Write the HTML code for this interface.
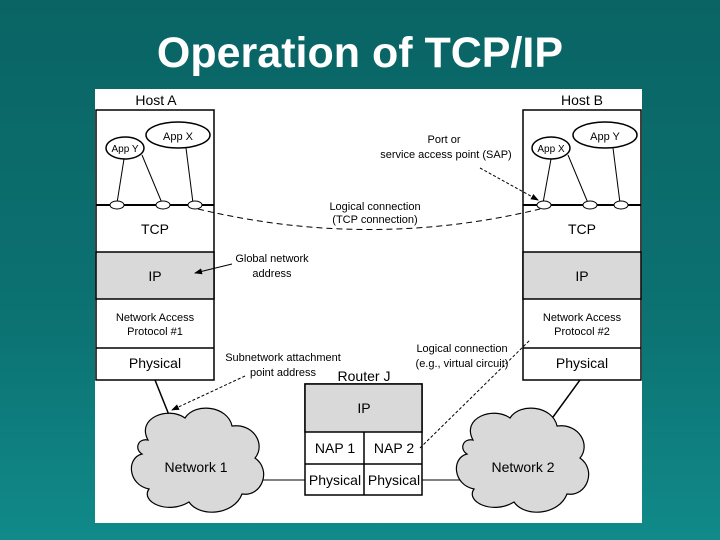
<!DOCTYPE html>
<html><head><style>
body{margin:0;width:720px;height:540px;overflow:hidden;background:linear-gradient(180deg,#0a6464 0%,#0c7272 60%,#118a8a 100%);font-family:"Liberation Sans",sans-serif;}
h1{position:absolute;top:29px;left:0;width:720px;text-align:center;margin:0;color:#fff;font-size:43px;font-weight:bold;}
svg{position:absolute;left:0;top:0}
</style></head><body>
<h1>Operation of TCP/IP</h1>
<svg width="720" height="540" font-family="Liberation Sans, sans-serif">
<defs><marker id="a" markerWidth="8" markerHeight="8" refX="7" refY="4" orient="auto"><path d="M0,1 L8,4 L0,7z" fill="#000"/></marker></defs>
<rect x="95" y="89" width="547" height="434" fill="#fff"/>
<g stroke="#000" stroke-width="1.5" fill="none">
<rect x="96" y="110" width="118" height="270"/>
<rect x="96" y="252" width="118" height="47" fill="#d9d9d9"/>
<line x1="96" y1="205" x2="214" y2="205" stroke-width="2"/>
<line x1="96" y1="348" x2="214" y2="348"/>
<rect x="523" y="110" width="118" height="270"/>
<rect x="523" y="252" width="118" height="47" fill="#d9d9d9"/>
<line x1="523" y1="205" x2="641" y2="205" stroke-width="2"/>
<line x1="523" y1="348" x2="641" y2="348"/>
<rect x="305" y="384" width="117" height="111"/>
<rect x="305" y="384" width="117" height="48" fill="#d9d9d9"/>
<line x1="305" y1="464" x2="422" y2="464"/>
<line x1="364" y1="432" x2="364" y2="495"/>
<line x1="155" y1="380" x2="175" y2="430"/>
<line x1="580" y1="380" x2="545" y2="428"/>
<line x1="255" y1="480" x2="305" y2="480" stroke-width="1"/>
<line x1="422" y1="480" x2="462" y2="480" stroke-width="1"/>
<ellipse cx="178" cy="135" rx="32" ry="13" fill="#fff"/>
<ellipse cx="125" cy="148" rx="19" ry="11" fill="#fff"/>
<ellipse cx="605" cy="135" rx="32" ry="13" fill="#fff"/>
<ellipse cx="551" cy="148" rx="19" ry="11" fill="#fff"/>
<g stroke-width="1">
<line x1="124" y1="159" x2="117" y2="203"/><line x1="142" y1="155" x2="162" y2="203"/><line x1="186" y1="148" x2="193" y2="203"/>
<line x1="551" y1="159" x2="543" y2="203"/><line x1="568" y1="155" x2="588" y2="203"/><line x1="613" y1="148" x2="620" y2="203"/>
</g>
<g fill="#fff" stroke-width="1">
<ellipse cx="117" cy="205" rx="7" ry="4"/><ellipse cx="163" cy="205" rx="7" ry="4"/><ellipse cx="195" cy="205" rx="7" ry="4"/>
<ellipse cx="544" cy="205" rx="7" ry="4"/><ellipse cx="590" cy="205" rx="7" ry="4"/><ellipse cx="621" cy="205" rx="7" ry="4"/>
</g>
<path d="M198,209 Q370,250 540,209" stroke-dasharray="6,4" stroke-width="1"/>
<g stroke-width="1" marker-end="url(#a)">
<line x1="232" y1="264" x2="195" y2="273"/>
<line x1="480" y1="168" x2="538" y2="200" stroke-dasharray="3,2"/>
<line x1="245" y1="376" x2="172" y2="410" stroke-dasharray="3,2"/>
</g>
<line x1="420" y1="448" x2="530" y2="340" stroke-width="1" stroke-dasharray="3,2"/>
<path d="M148,440 C136,418 168,406 185,418 C195,402 228,406 232,426 C254,423 266,445 255,458 C272,470 262,497 242,494 C234,515 200,518 189,502 C168,515 140,502 149,489 C128,485 126,458 142,454 C134,449 138,438 148,440Z" fill="#d9d9d9" stroke-width="1.2"/>
<path d="M473,440 C461,418 493,406 510,418 C520,402 553,406 557,426 C579,423 591,445 580,458 C597,470 587,497 567,494 C559,515 525,518 514,502 C493,515 465,502 474,489 C453,485 451,458 467,454 C459,449 463,438 473,440Z" fill="#d9d9d9" stroke-width="1.2"/>
</g>
<g font-size="14" text-anchor="middle" fill="#000">
<text x="156" y="105">Host A</text><text x="582" y="105">Host B</text>
<text x="155" y="234">TCP</text><text x="582" y="234">TCP</text>
<text x="155" y="281">IP</text><text x="582" y="281">IP</text>
<text x="155" y="368">Physical</text><text x="582" y="368">Physical</text>
<text x="364" y="381">Router J</text>
<text x="364" y="413">IP</text>
<text x="335" y="453">NAP 1</text><text x="394" y="453">NAP 2</text>
<text x="335" y="485">Physical</text><text x="394" y="485">Physical</text>
<text x="196" y="472">Network 1</text><text x="523" y="472">Network 2</text>
</g>
<g font-size="11" text-anchor="middle" fill="#000">
<text x="178" y="140">App X</text><text x="125" y="152" font-size="10">App Y</text>
<text x="605" y="140">App Y</text><text x="551" y="152" font-size="10">App X</text>
<text x="155" y="321">Network Access</text><text x="155" y="335">Protocol #1</text>
<text x="582" y="321">Network Access</text><text x="582" y="335">Protocol #2</text>
<text x="444" y="143">Port or</text><text x="446" y="158">service access point (SAP)</text>
<text x="375" y="210">Logical connection</text><text x="375" y="223">(TCP connection)</text>
<text x="272" y="262">Global network</text><text x="272" y="277">address</text>
<text x="283" y="361">Subnetwork attachment</text><text x="283" y="376">point address</text>
<text x="462" y="352">Logical connection</text><text x="462" y="367">(e.g., virtual circuit)</text>
</g>
</svg>
</body></html>
